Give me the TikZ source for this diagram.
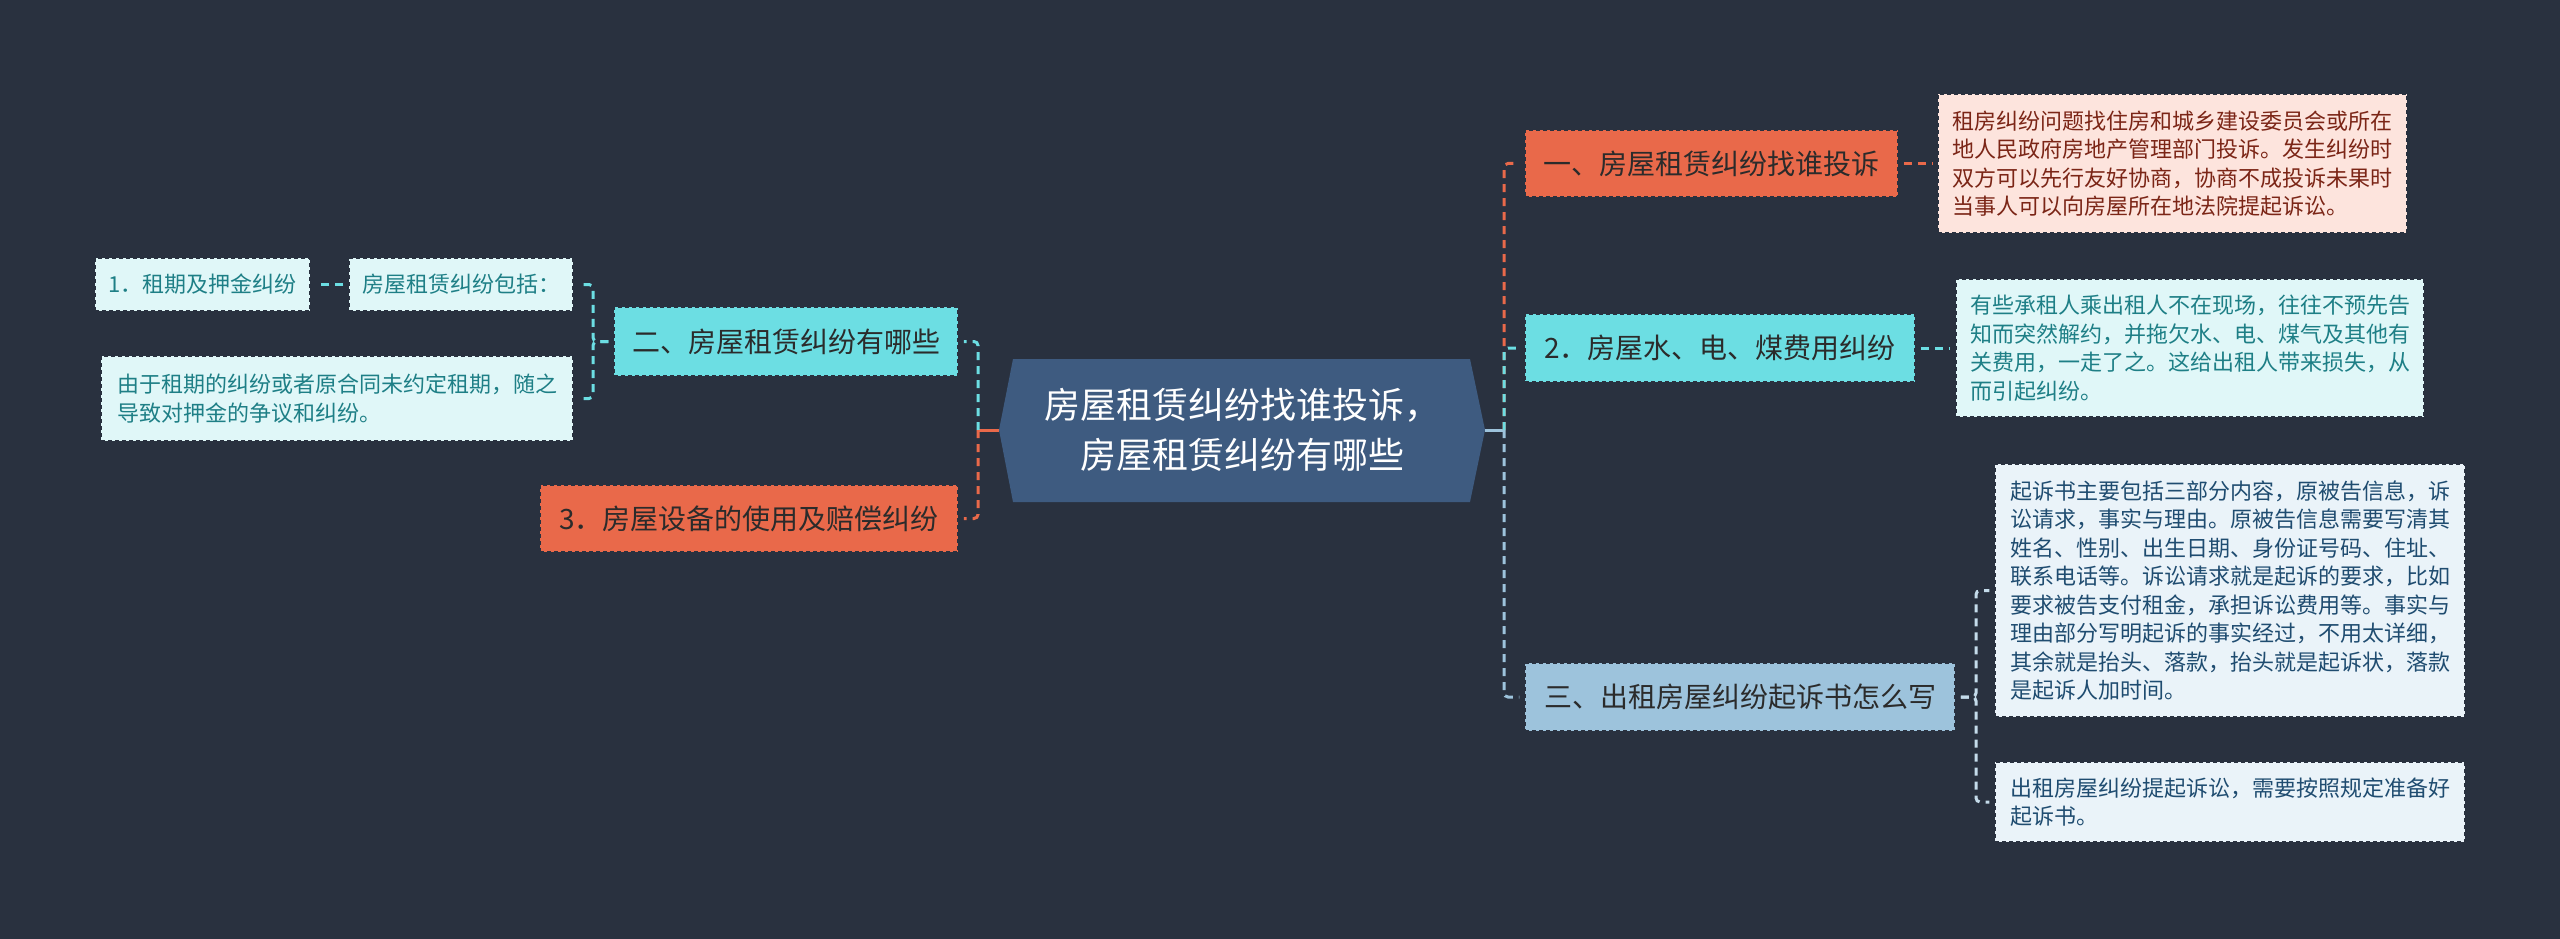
\documentclass[tikz,border=0pt]{standalone}
\usepackage{fontspec}
\setmainfont{Noto Sans CJK SC}
\usetikzlibrary{calc}
\definecolor{bg}{HTML}{29313F}
\definecolor{hubc}{HTML}{3E5B80}
\definecolor{org}{HTML}{E9694A}
\definecolor{cyn}{HTML}{6CDEE3}
\definecolor{lbl}{HTML}{9DC3DC}
\definecolor{pinkf}{HTML}{FDE4DD}
\definecolor{pinkt}{HTML}{7B2516}
\definecolor{cynf}{HTML}{E0F7F8}
\definecolor{cynt}{HTML}{1E7F86}
\definecolor{lblf}{HTML}{EAF3F9}
\definecolor{lblt}{HTML}{1F4C70}
\definecolor{darkt}{HTML}{2B2B2B}
\begin{document}
\begin{tikzpicture}[x=1pt,y=-1pt,
  box/.style={rectangle, inner sep=0pt, dash pattern=on 4pt off 3pt, line width=1.5pt, draw=bg},
  cat/.style={box, font=\fontsize{28}{34}\selectfont, text=darkt},
  det/.style={box, font=\fontsize{22}{28.5}\selectfont, align=left},
  link/.style={line width=3pt, dash pattern=on 8pt off 6pt, rounded corners=4pt, shorten >=5pt},
  fromnode/.style={shorten <=5pt},
  stub/.style={line width=3pt}]
\fill[bg] (0,0) rectangle (2560,939);
\useasboundingbox (0,0) rectangle (2560,939);

% hub
\fill[hubc] (1013,359) -- (1470,359) -- (1485,430) -- (1470,502) -- (1013,502) -- (999,430) -- cycle;
\node[inner sep=0pt, minimum width=486pt, minimum height=142pt, align=center, text=white,
  font=\fontsize{36}{50}\selectfont] (hub) at (1242,430) {房屋租赁纠纷找谁投诉，\\房屋租赁纠纷有哪些};

% left side
\node[cat, fill=cyn, minimum width=344pt, minimum height=69pt] (two) at (786,341.5) {二、房屋租赁纠纷有哪些};
\node[cat, fill=org, minimum width=418pt, minimum height=67pt] (three) at (749,518.5) {3．房屋设备的使用及赔偿纠纷};
\node[det, fill=cynf, text=cynt, minimum width=224pt, minimum height=53pt] (incl) at (461,284.5) {房屋租赁纠纷包括：};
\node[det, fill=cynf, text=cynt, minimum width=215pt, minimum height=53pt] (first) at (202.5,284.5) {1．租期及押金纠纷};
\node[det, fill=cynf, text=cynt, minimum width=472pt, minimum height=85pt] (due) at (337,398.5) {由于租期的纠纷或者原合同未约定租期，随之\\导致对押金的争议和纠纷。};

% right side
\node[cat, fill=org, minimum width=373pt, minimum height=67pt] (one) at (1711.5,163.5) {一、房屋租赁纠纷找谁投诉};
\node[det, fill=pinkf, text=pinkt, minimum width=469pt, minimum height=139pt] (pk) at (2172.5,163.5) {租房纠纷问题找住房和城乡建设委员会或所在\\地人民政府房地产管理部门投诉。发生纠纷时\\双方可以先行友好协商，协商不成投诉未果时\\当事人可以向房屋所在地法院提起诉讼。};
\node[cat, fill=cyn, minimum width=390pt, minimum height=68pt] (util) at (1720,348) {2．房屋水、电、煤费用纠纷};
\node[det, fill=cynf, text=cynt, minimum width=468pt, minimum height=138pt] (ud) at (2190,348) {有些承租人乘出租人不在现场，往往不预先告\\知而突然解约，并拖欠水、电、煤气及其他有\\关费用，一走了之。这给出租人带来损失，从\\而引起纠纷。};
\node[cat, fill=lbl, minimum width=430pt, minimum height=68pt] (sue) at (1740,697) {三、出租房屋纠纷起诉书怎么写};
\node[det, fill=lblf, text=lblt, minimum width=470pt, minimum height=253pt] (sa) at (2230,590.5) {起诉书主要包括三部分内容，原被告信息，诉\\讼请求，事实与理由。原被告信息需要写清其\\姓名、性别、出生日期、身份证号码、住址、\\联系电话等。诉讼请求就是起诉的要求，比如\\要求被告支付租金，承担诉讼费用等。事实与\\理由部分写明起诉的事实经过，不用太详细，\\其余就是抬头、落款，抬头就是起诉状，落款\\是起诉人加时间。};
\node[det, fill=lblf, text=lblt, minimum width=470pt, minimum height=80pt] (sb) at (2230,802) {出租房屋纠纷提起诉讼，需要按照规定准备好\\起诉书。};

% junctions
\coordinate (jl) at (978,430);
\coordinate (jl2) at (593,341.5);
\coordinate (jr) at (1504,430);
\coordinate (jr2) at (1976,697);

% left connectors
\draw[stub, org] (hub.west) -- (jl);
\draw[link, cyn] (jl) |- (two.east);
\draw[link, org] (jl) |- (three.east);
\draw[link, fromnode, cyn] (two.west) -- (jl2) |- (incl.east);
\draw[link, fromnode, cyn] (two.west) -- (jl2) |- (due.east);
\draw[link, fromnode, cyn] (incl.west) -- (first.east);

% right connectors
\draw[stub, lbl] (hub.east) -- (jr);
\draw[link, org] (jr) |- (one.west);
\draw[link, cyn] (jr) |- (util.west);
\draw[link, lbl] (jr) |- (sue.west);
\draw[link, fromnode, org] (one.east) -- (pk.west);
\draw[link, fromnode, cyn] (util.east) -- (ud.west);
\draw[link, fromnode, lbl!60!white] (sue.east) -- (jr2) |- (sa.west);
\draw[link, fromnode, lbl!60!white] (sue.east) -- (jr2) |- (sb.west);
\end{tikzpicture}
\end{document}
